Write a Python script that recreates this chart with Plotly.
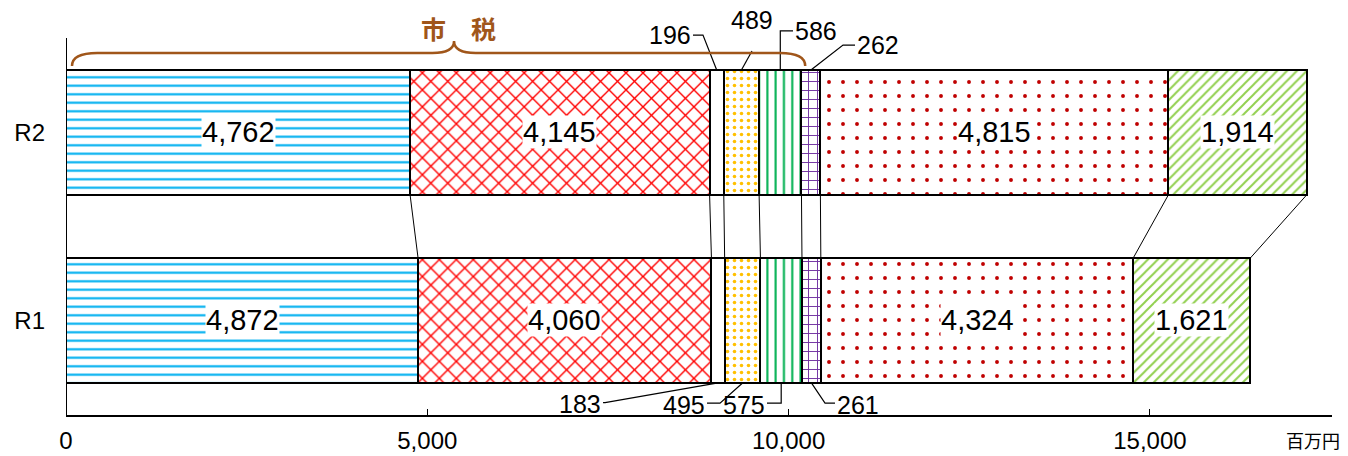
import plotly.graph_objects as go

# ---------------- data ----------------
rows = ["R1", "R2"]
r1_values = [4872, 4060, 183, 495, 575, 261, 4324, 1621]
r2_values = [4762, 4145, 196, 489, 586, 262, 4815, 1914]
x_ticks = [0, 5000, 10000, 15000]
x_ticktext = ["0", "5,000", "10,000", "15,000"]
unit_label = "百万円"
brace_label = "市　税"

# ---------------- styles ----------------
fg_colors = ["#00B0F0", "#FF0000", "#FFFFFF", "#FFC000", "#00B050", "#7030A0", "#C00000", "#92D050"]
shapes_pat = ["-", "x", "", ".", "|", "+", ".", "/"]
pat_sizes = [8.5, 12, 8, 7, 8.3, 9, 14, 7]
pat_solid = [0.25, 0.22, 0.1, 0.2, 0.25, 0.2, 0.06, 0.28]
inside_idx = [0, 1, 6, 7]
BAR_W = 0.665
XMAX = 17520
Y_RANGE = [-0.503, 1.678]
FONT = "Arial, Liberation Sans, sans-serif"
BROWN = "#A0561A"

y_pos = [0, 1]
half = BAR_W / 2

fig = go.Figure()
for i in range(len(r1_values)):
    fig.add_trace(go.Bar(
        x=[r1_values[i], r2_values[i]], y=y_pos, orientation="h", width=BAR_W,
        marker=dict(color="white",
                    line=dict(color="black", width=2),
                    pattern=dict(shape=shapes_pat[i], fgcolor=fg_colors[i], bgcolor="white",
                                 size=pat_sizes[i], solidity=pat_solid[i], fillmode="replace")),
        hoverinfo="skip", showlegend=False))

def cums(vals):
    out, s = [], 0
    for v in vals:
        out.append(s)
        s += v
    out.append(s)
    return out

c1, c2 = cums(r1_values), cums(r2_values)
mid1 = [(c1[i] + c1[i + 1]) / 2 for i in range(len(r1_values))]
mid2 = [(c2[i] + c2[i + 1]) / 2 for i in range(len(r2_values))]

shapes = []
annots = []
# connector lines between the two bars
for k in range(1, len(c1)):
    shapes.append(dict(type="line", xref="x", yref="y", x0=c2[k], y0=1 - half, x1=c1[k], y1=0 + half,
                       line=dict(color="black", width=1)))
# y axis line
shapes.append(dict(type="line", xref="x", yref="y", x0=0, x1=0, y0=Y_RANGE[0], y1=1.503,
                   line=dict(color="black", width=2)))

# inside value labels
for i in inside_idx:
    for vals, mids, yy in ((r1_values, mid1, 0), (r2_values, mid2, 1)):
        annots.append(dict(x=mids[i], y=yy, xref="x", yref="y", text=f"{vals[i]:,}", showarrow=False,
                           font=dict(family=FONT, size=29, color="black"), bgcolor="white", borderpad=0))

# leader labels: (row, index, text_x, text_y, anchor, elbow_x, elbow_y)
top_y = 1 + half
bot_y = 0 - half
leaders = [
    (1, 2, 8677, 1.518, "right", 8815, 1.518),
    (1, 3, 9493, 1.513, "center", 9493, 1.433),
    (1, 4, 10061, 1.540, "left", None, 1.540),
    (1, 5, 10919, 1.465, "left", 10753, 1.465),
    (0, 2, 7432, -0.445, "right", 7460, -0.437),
    (0, 3, 8871, -0.450, "right", 9051, -0.440),
    (0, 4, 9701, -0.450, "right", None, -0.440),
    (0, 5, 10642, -0.450, "left", 10504, -0.440),
]
for row, idx, tx, ty, anc, ex, ey in leaders:
    vals = r2_values if row == 1 else r1_values
    mids = mid2 if row == 1 else mid1
    edge = top_y if row == 1 else bot_y
    annots.append(dict(x=tx, y=ty, xref="x", yref="y", text=f"{vals[idx]:,}", showarrow=False,
                       xanchor=anc, yanchor="middle" if anc != "center" else "bottom",
                       font=dict(family=FONT, size=25, color="black")))
    if ex is None:
        ex = mids[idx]
    if anc == "center":
        path = f"M {ex},{ey} L {mids[idx]},{edge}"
    else:
        path = f"M {tx},{ey} L {ex},{ey} L {mids[idx]},{edge}"
    shapes.append(dict(type="path", xref="x", yref="y", path=path, line=dict(color="black", width=1.2)))

# brace
bx0, bx1, bxm = 83, 10230, 5370
by0, byf, byp = 1.354, 1.423, 1.487
cw, cm = 350, 300
brace = (f"M {bx0},{by0} Q {bx0},{byf} {bx0 + cw},{byf} L {bxm - cm},{byf} "
         f"Q {bxm},{byf} {bxm},{byp} Q {bxm},{byf} {bxm + cm},{byf} L {bx1 - cw},{byf} "
         f"Q {bx1},{byf} {bx1},{by0}")
shapes.append(dict(type="path", xref="x", yref="y", path=brace, line=dict(color=BROWN, width=2.5)))
annots.append(dict(x=5438, y=1.556, xref="x", yref="y", text=f"<b>{brace_label}</b>", showarrow=False,
                   font=dict(family="Noto Sans CJK JP", size=25, color=BROWN)))
annots.append(dict(x=(1313 - 66) / (1348 - 66 - 16), y=(415 - 440) / (415 - 5), xref="paper", yref="paper",
                   text=unit_label, showarrow=False, xanchor="center", yanchor="middle",
                   font=dict(family="Noto Sans CJK JP", size=18, color="black")))

fig.update_layout(
    barmode="stack", bargap=0,
    width=1348, height=456,
    margin=dict(l=66, r=16, t=5, b=41, autoexpand=False),
    paper_bgcolor="white", plot_bgcolor="white",
    shapes=shapes, annotations=annots,
    xaxis=dict(range=[0, XMAX], tickvals=x_ticks, ticktext=x_ticktext, ticks="inside", ticklen=6,
               tickcolor="black", tickwidth=1, showline=True, linecolor="black", linewidth=2,
               showgrid=False, zeroline=False, ticklabelstandoff=3,
               tickfont=dict(family=FONT, size=24, color="black"), fixedrange=True),
    yaxis=dict(range=Y_RANGE, tickvals=y_pos, ticktext=rows, ticks="", showline=False,
               showgrid=False, zeroline=False, ticklabelstandoff=20,
               tickfont=dict(family=FONT, size=24, color="black"), fixedrange=True),
)

fig.write_html("out.html", config={"displayModeBar": False},
               post_script="document.body.style.margin='0';document.body.style.overflow='hidden';")
